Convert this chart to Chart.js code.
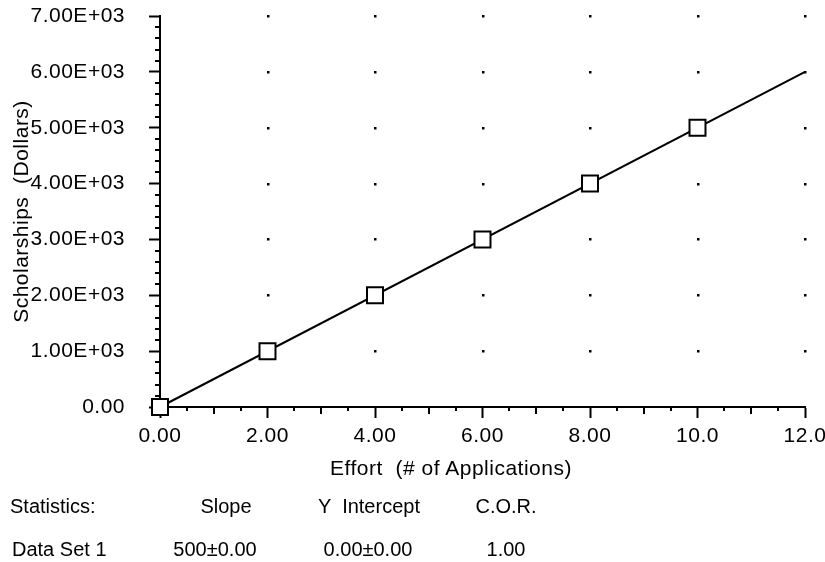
<!DOCTYPE html>
<html>
<head>
<meta charset="utf-8">
<script src="https://cdn.jsdelivr.net/npm/chart.js@4"></script>
<style>
  html, body { margin:0; padding:0; background:#fff; }
  #wrap { position:relative; width:825px; height:562px; }
  canvas { position:absolute; left:0; top:0; }
  .st { position:absolute; font-family:"Liberation Sans", Arial, sans-serif; font-size:20px; color:#000; white-space:pre; line-height:24px; }
  .c { transform:translateX(-50%); }
</style>
</head>
<body>
<div id="wrap">
  <canvas id="chart" width="825" height="562"></canvas>
</div>
<script>
// ---- data ----
const effort = [0, 2, 4, 6, 8, 10];
const scholarships = [0, 1000, 2000, 3000, 4000, 5000];
const fitX = [0, 12];
const fitY = [0, 6000];
const xTickLabels = ['0.00', '2.00', '4.00', '6.00', '8.00', '10.0', '12.0'];
const yTickLabels = ['0.00', '1.00E+03', '2.00E+03', '3.00E+03', '4.00E+03', '5.00E+03', '6.00E+03', '7.00E+03'];
const xTitle = 'Effort  (# of Applications)';
const yTitle = 'Scholarships  (Dollars)';
const statHeaders = ['Statistics:', 'Slope', 'Y  Intercept', 'C.O.R.'];
const statRow = ['Data Set 1', '500\u00B10.00', '0.00\u00B10.00', '1.00'];

const FONT = '"Liberation Sans", Arial, sans-serif';
const FS = 21;

const wrap = document.getElementById('wrap');
function addText(t, left, top, center, spacing, size) {
  const d = document.createElement('div');
  d.className = 'st' + (center ? ' c' : '');
  d.textContent = t;
  d.style.left = left + 'px';
  d.style.top = top + 'px';
  if (spacing) d.style.letterSpacing = spacing;
  if (size) d.style.fontSize = size + 'px';
  wrap.appendChild(d);
}
// x-axis title (positioned as in the reference)
addText(xTitle, 451, 456, true, '0.5px', FS);
// statistics block
const hdrX = [10, 226, 369, 506];
const rowX = [12, 215, 368, 506];
statHeaders.forEach((t, i) => addText(t, hdrX[i], 494, i > 0));
statRow.forEach((t, i) => addText(t, rowX[i], 537, i > 0));

const spacingPlugin = {
  id: 'spacing',
  beforeUpdate(chart) { chart.ctx.letterSpacing = '0.5px'; },
  beforeDraw(chart) { chart.ctx.letterSpacing = '0.5px'; }
};

// grid dots (behind the marks)
const dots = {
  id: 'dots',
  beforeDatasetsDraw(chart) {
    const ctx = chart.ctx;
    const xs = chart.scales.x, ys = chart.scales.y;
    ctx.save();
    ctx.fillStyle = '#000';
    for (let gx = 2; gx <= 12; gx += 2) {
      for (let gy = 1000; gy <= 7000; gy += 1000) {
        const px = Math.round(xs.getPixelForValue(gx));
        const py = Math.round(ys.getPixelForValue(gy));
        ctx.fillRect(px - 1, py - 1, 2.5, 2.5);
      }
    }
    ctx.restore();
  }
};

// minor ticks
const minor = {
  id: 'minor',
  afterDraw(chart) {
    const ctx = chart.ctx;
    const xs = chart.scales.x, ys = chart.scales.y;
    const ca = chart.chartArea;
    ctx.save();
    ctx.strokeStyle = '#000';
    ctx.lineWidth = 2;
    for (let v = 0.5; v < 12; v += 0.5) {
      if (Math.abs(v % 2) < 1e-9) continue;
      const len = (Math.abs(v % 1) < 1e-9) ? 7 : 4;
      const px = Math.round(xs.getPixelForValue(v));
      ctx.beginPath();
      ctx.moveTo(px, ca.bottom);
      ctx.lineTo(px, ca.bottom + len);
      ctx.stroke();
    }
    for (let v = 200; v < 7000; v += 200) {
      if (v % 1000 === 0) continue;
      const py = Math.round(ys.getPixelForValue(v));
      ctx.beginPath();
      ctx.moveTo(ca.left, py);
      ctx.lineTo(ca.left - 5, py);
      ctx.stroke();
    }
    ctx.restore();
  }
};

new Chart(document.getElementById('chart'), {
  type: 'scatter',
  data: {
    datasets: [
      {
        label: 'Data Set 1',
        data: effort.map((x, i) => ({ x, y: scholarships[i] })),
        pointStyle: 'rect',
        pointRadius: 11.3,
        pointBorderWidth: 2,
        pointBorderColor: '#000',
        pointBackgroundColor: '#fff',
        showLine: false,
        clip: false,
        order: 0
      },
      {
        label: 'Fit',
        data: fitX.map((x, i) => ({ x, y: fitY[i] })),
        showLine: true,
        borderColor: '#000',
        borderWidth: 2,
        pointRadius: 0,
        fill: false,
        clip: false,
        order: 1
      }
    ]
  },
  options: {
    responsive: false,
    animation: false,
    events: [],
    layout: { padding: { top: 0, right: 0, bottom: 80, left: 0 } },
    plugins: { legend: { display: false }, tooltip: { enabled: false } },
    scales: {
      x: {
        type: 'linear',
        min: 0, max: 12,
        afterFit(s) { s.height = 75; s.paddingRight = 20; s.paddingLeft = 0; },
        ticks: {
          stepSize: 2,
          color: '#000',
          padding: 6,
          font: { family: FONT, size: FS },
          callback: (v, i) => xTickLabels[i]
        },
        grid: { drawOnChartArea: false, drawTicks: true, tickLength: 11, tickColor: '#000', tickWidth: 2 },
        border: { display: true, color: '#000', width: 2 },
        title: { display: false }
      },
      y: {
        type: 'linear',
        min: 0, max: 7000,
        afterFit(s) { s.width = 160; s.paddingTop = 16; s.paddingBottom = 0; },
        ticks: {
          stepSize: 1000,
          color: '#000',
          padding: 24,
          font: { family: FONT, size: FS },
          callback: (v, i) => yTickLabels[i]
        },
        grid: { drawOnChartArea: false, drawTicks: true, tickLength: 11, tickColor: '#000', tickWidth: 2 },
        border: { display: true, color: '#000', width: 2 },
        title: { display: true, text: yTitle, color: '#000', font: { family: FONT, size: FS }, padding: { top: 10, bottom: 0 } }
      }
    }
  },
  plugins: [spacingPlugin, dots, minor]
});
</script>
</body>
</html>
